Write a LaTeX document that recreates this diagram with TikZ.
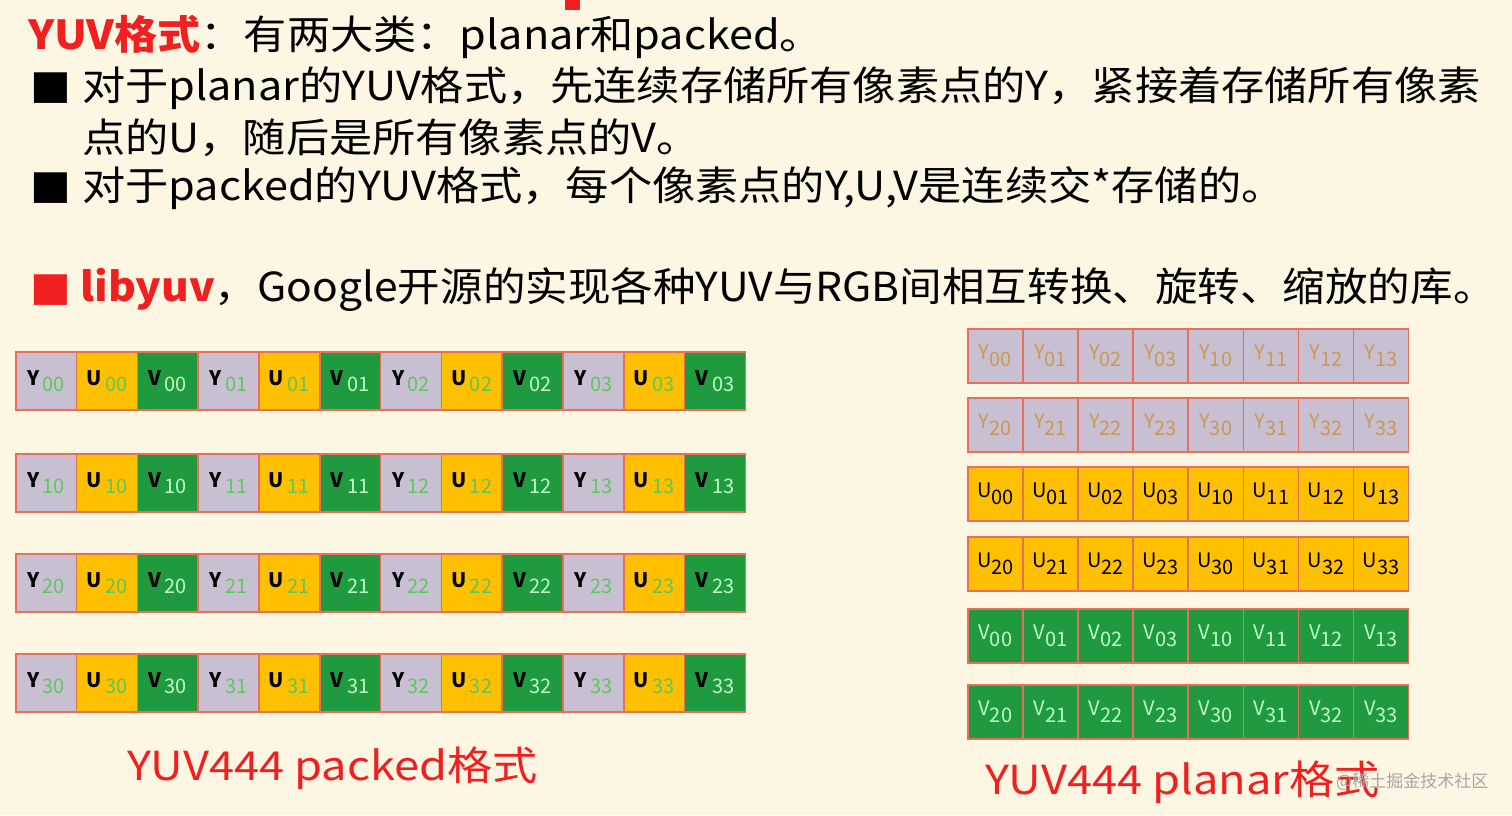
\documentclass[tikz,border=0pt]{standalone}
\usepackage{fontspec}
\setmainfont{Noto Sans CJK SC}
\newfontfamily\symf{DejaVu Sans}
\definecolor{bg}{HTML}{FDF6E3}
\definecolor{cy}{HTML}{C9BFD3}
\definecolor{cu}{HTML}{FFC000}
\definecolor{cv}{HTML}{1F9A3E}
\definecolor{bd}{HTML}{E8705A}
\definecolor{rd}{HTML}{F02020}
\definecolor{sg}{HTML}{5CC85C}
\definecolor{so}{HTML}{C89A50}
\tikzset{
 txt/.style={anchor=west,inner sep=0,xscale=1.08,font=\fontsize{40}{42}\selectfont},
 cell/.style={draw=bd,line width=1.5pt,minimum width=#1,minimum height=58,inner sep=0,anchor=north west,font=\fontsize{20}{22}\selectfont},
 lab/.style={anchor=west,inner sep=0,xscale=1.13,text=rd,font=\fontsize{40}{42}\selectfont}
}
\begin{document}
\begin{tikzpicture}[x=1pt,y=-1pt]
\fill[bg] (0,0) rectangle (1512,815);
\useasboundingbox (0,0) rectangle (1512,815);
\fill[rd] (565,0) rectangle (580,10);
\node[txt] (t0) at (28,37) {\textcolor{rd}{\bfseries YUV格式}：有两大类：planar和packed。};
\node[txt] (b1) at (30,88) {{\symf■}};
\node[txt] (t1) at (82,88) {对于planar的YUV格式，先连续存储所有像素点的Y，紧接着存储所有像素};
\node[txt] (t2) at (82,138) {点的U，随后是所有像素点的V。};
\node[txt] (b2) at (30,188) {{\symf■}};
\node[txt] (t3) at (82,188) {对于packed的YUV格式，每个像素点的Y,U,V是连续交*存储的。};
\node[txt] (b3) at (30,290) {\textcolor{rd}{\symf■}};
\node[txt,xscale=0.985] (t4) at (80,290) {\textcolor{rd}{\bfseries libyuv}，Google开源的实现各种YUV与RGB间相互转换、旋转、缩放的库。};
% packed
\foreach \r/\y in {0/351,1/453,2/553,3/653}{
  \foreach \p in {0,...,3}{
    \pgfmathsetmacro{\xa}{15+(3*\p)*60.8}
    \pgfmathsetmacro{\xb}{15+(3*\p+1)*60.8}
    \pgfmathsetmacro{\xc}{15+(3*\p+2)*60.8}
    \node[cell=60.8,fill=cy] (py\r\p) at (\xa,\y) {\textbf{Y}\,\raisebox{-6pt}{\textcolor{sg}{\r\p}}};
    \node[cell=60.8,fill=cu] (pu\r\p) at (\xb,\y) {\textbf{U}\,\raisebox{-6pt}{\textcolor{sg}{\r\p}}};
    \node[cell=60.8,fill=cv] (pv\r\p) at (\xc,\y) {\textbf{V}\,\raisebox{-6pt}{\textcolor{green!25}{\r\p}}};
  }
}
% planar
\foreach \k/\y/\L/\f/\a/\b/\c in {0/328/Y/cy/0/1/so,1/397/Y/cy/2/3/so,2/466/U/cu/0/1/black,3/536/U/cu/2/3/black,4/608/V/cv/0/1/green!25,5/684/V/cv/2/3/green!25}{
  \foreach \j in {0,...,7}{
    \pgfmathtruncatemacro{\hi}{\j<4 ? \a : \b}
    \pgfmathtruncatemacro{\lo}{mod(\j,4)}
    \pgfmathsetmacro{\xx}{967+\j*55.1}
    \node[cell=55.1,minimum height=54,fill=\f,text=\c] (q\k\j) at (\xx,\y) {\L\raisebox{-7pt}{\hi\lo}};
  }
}
\node[lab] (l1) at (127,768) {YUV444 packed格式};
\node[lab] (l2) at (985,782) {YUV444 planar格式};
\node[anchor=west,inner sep=0,text=gray!70,font=\fontsize{17}{18}\selectfont] (wm) at (1336,782) {@稀土掘金技术社区};
\end{tikzpicture}
\end{document}
